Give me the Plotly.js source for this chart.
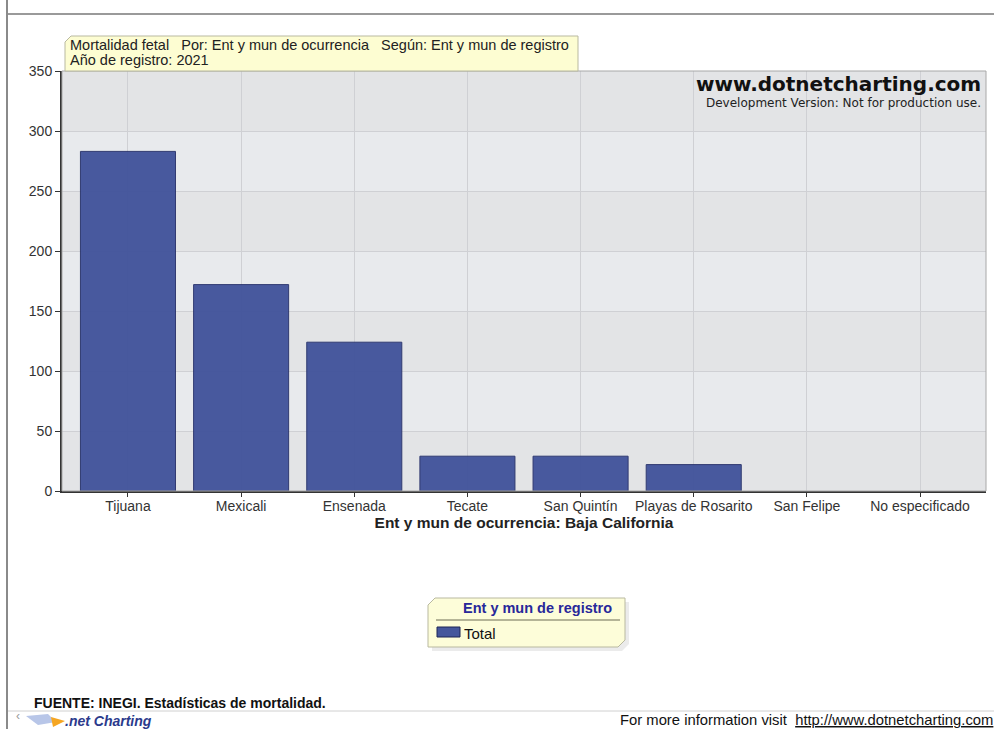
<!DOCTYPE html>
<html>
<head>
<meta charset="utf-8">
<script src="https://cdn.plot.ly/plotly-3.0.1.min.js"></script>
<style>
  html, body { margin: 0; padding: 0; background: #ffffff; }
  #chart { width: 994px; height: 729px; }
</style>
</head>
<body>
<div id="chart"></div>
<script>
// ---- data ----
var categories = ["Tijuana", "Mexicali", "Ensenada", "Tecate", "San Quintín", "Playas de Rosarito", "San Felipe", "No especificado"];
var totals = [283, 172, 124, 29, 29, 22, 0, 0];
var seriesName = "Total";
var yTickValues = [0, 50, 100, 150, 200, 250, 300, 350];
var titleLine1 = "Mortalidad fetal   Por: Ent y mun de ocurrencia   Según: Ent y mun de registro";
var titleLine2 = "Año de registro: 2021";
var xAxisTitle = "Ent y mun de ocurrencia: Baja California";
var legendTitle = "Ent y mun de registro";
var sourceText = "FUENTE: INEGI. Estadísticas de mortalidad.";

// ---- pixel helpers (layout geometry) ----
var W = 994, H = 729;
var L = 62, R = 986, T = 71, B = 491;
function px(x) { return (x - L) / (R - L); }
function py(y) { return (B - y) / (B - T); }
function path(pts) {
  return "M" + pts.map(function (p) { return px(p[0]) + "," + py(p[1]); }).join(" L") + " Z";
}

var shapes = [];
// alternating bands in plot
for (var i = 0; i < yTickValues.length - 1; i++) {
  shapes.push({
    type: "rect", xref: "paper", yref: "y", layer: "below",
    x0: 0, x1: 1, y0: yTickValues[i], y1: yTickValues[i + 1],
    fillcolor: (i % 2 === 0) ? "#e3e4e6" : "#e8eaed", line: { width: 0 }
  });
}
// plot border (grey top/right)
shapes.push({ type: "rect", xref: "paper", yref: "paper", x0: 0, x1: 1, y0: 0, y1: 1,
  line: { color: "#a8a8a8", width: 1 }, layer: "above" });
// page frame lines
shapes.push({ type: "line", xref: "paper", yref: "paper", x0: px(7), x1: px(7), y0: py(0), y1: py(729),
  line: { color: "#8a8a8a", width: 2 } });
shapes.push({ type: "line", xref: "paper", yref: "paper", x0: px(8), x1: px(994), y0: py(14), y1: py(14),
  line: { color: "#9a9a9a", width: 2 } });
shapes.push({ type: "line", xref: "paper", yref: "paper", x0: px(8), x1: px(994), y0: py(711), y1: py(711),
  line: { color: "#d0d0d0", width: 1 } });
// title box
shapes.push({ type: "path", xref: "paper", yref: "paper", layer: "above",
  path: path([[71, 36], [578, 36], [578, 71], [65, 71], [65, 42]]),
  fillcolor: "#fdfdd2", line: { color: "#b9b9a0", width: 1 } });
// legend box shadow + box
shapes.push({ type: "path", xref: "paper", yref: "paper",
  path: path([[438, 602], [629, 602], [629, 644], [622, 651], [432, 651], [432, 609]]),
  fillcolor: "rgba(0,0,0,0.08)", line: { width: 0 } });
shapes.push({ type: "path", xref: "paper", yref: "paper",
  path: path([[435, 598], [625, 598], [625, 640], [618, 647], [428, 647], [428, 605]]),
  fillcolor: "#fdfdd9", line: { color: "#b9b9a0", width: 1 } });
shapes.push({ type: "line", xref: "paper", yref: "paper", x0: px(436), x1: px(620), y0: py(620), y1: py(620),
  line: { color: "#6c6c55", width: 1 } });
// legend swatch
shapes.push({ type: "rect", xref: "paper", yref: "paper", x0: px(437), x1: px(460), y0: py(627), y1: py(637),
  fillcolor: "#45579c", line: { color: "#1e2757", width: 1 } });
// logo icon
shapes.push({ type: "path", xref: "paper", yref: "paper",
  path: path([[26, 716], [48, 714], [56, 722], [38, 725]]),
  fillcolor: "#b8c6e8", line: { width: 0 } });
shapes.push({ type: "path", xref: "paper", yref: "paper",
  path: path([[51, 717], [65, 721], [53, 727]]),
  fillcolor: "#f5a623", line: { width: 0 } });

var annotations = [
  { xref: "paper", yref: "paper", x: px(68), y: py(45), xanchor: "left", yanchor: "middle",
    text: titleLine1, showarrow: false, font: { family: "Liberation Sans, Arial", size: 14.5, color: "#222" } },
  { xref: "paper", yref: "paper", x: px(68), y: py(60), xanchor: "left", yanchor: "middle",
    text: titleLine2, showarrow: false, font: { family: "Liberation Sans, Arial", size: 14.5, color: "#222" } },
  { xref: "paper", yref: "paper", x: px(983), y: py(84), xanchor: "right", yanchor: "middle",
    text: "<b>www.dotnetcharting.com</b>", showarrow: false,
    font: { family: "DejaVu Sans, Verdana", size: 20, color: "#111" } },
  { xref: "paper", yref: "paper", x: px(983), y: py(103), xanchor: "right", yanchor: "middle",
    text: "Development Version: Not for production use.", showarrow: false,
    font: { family: "DejaVu Sans, Verdana", size: 12, color: "#222" } },
  { xref: "paper", yref: "paper", x: px(614), y: py(608), xanchor: "right", yanchor: "middle",
    text: "<b>" + legendTitle + "</b>", showarrow: false,
    font: { family: "Liberation Sans, Arial", size: 14.5, color: "#28289a" } },
  { xref: "paper", yref: "paper", x: px(462), y: py(633), xanchor: "left", yanchor: "middle",
    text: seriesName, showarrow: false,
    font: { family: "Liberation Sans, Arial", size: 15, color: "#111" } },
  { xref: "paper", yref: "paper", x: px(32), y: py(703), xanchor: "left", yanchor: "middle",
    text: "<b>" + sourceText + "</b>", showarrow: false,
    font: { family: "Liberation Sans Narrow, Arial Narrow, Liberation Sans", size: 14, color: "#111" } },
  { xref: "paper", yref: "paper", x: px(14), y: py(716), xanchor: "left", yanchor: "middle",
    text: "‹", showarrow: false,
    font: { family: "Liberation Sans, Arial", size: 12, color: "#999" } },
  { xref: "paper", yref: "paper", x: px(63), y: py(721), xanchor: "left", yanchor: "middle",
    text: "<b><i>.net Charting</i></b>", showarrow: false,
    font: { family: "Liberation Sans Narrow, Liberation Sans, Arial", size: 14, color: "#2b3a8c" } },
  { xref: "paper", yref: "paper", x: px(995), y: py(720), xanchor: "right", yanchor: "middle",
    text: "For more information visit  <u>http://www.dotnetcharting.com</u>", showarrow: false,
    font: { family: "Liberation Sans Narrow, Liberation Sans, Arial", size: 14.8, color: "#111" } }
];

var trace = {
  type: "bar", name: seriesName, x: categories, y: totals, width: 0.84,
  marker: { color: "#3f519a", opacity: 0.94,
    line: { color: "#26306a", width: totals.map(function (v) { return v > 0 ? 1 : 0; }) } },
  showlegend: false, hoverinfo: "x+y"
};

var layout = {
  width: W, height: H,
  margin: { l: L, r: W - R, t: T, b: H - B, pad: 0 },
  paper_bgcolor: "#ffffff", plot_bgcolor: "rgba(0,0,0,0)",
  showlegend: false,
  font: { family: "Liberation Sans, Arial", size: 13, color: "#333" },
  xaxis: {
    type: "category", range: [-0.583, 7.583], fixedrange: true,
    showgrid: true, gridcolor: "#cfd0d4", gridwidth: 1,
    showline: true, linecolor: "#333", linewidth: 2,
    ticks: "outside", ticklen: 4, tickcolor: "#333", tickwidth: 1,
    ticklabelstandoff: -3,
    tickfont: { family: "Liberation Sans, Arial", size: 14, color: "#333" },
    title: { text: "<b>" + xAxisTitle + "</b>", standoff: 0,
      font: { family: "Liberation Sans, Arial", size: 15.5, color: "#222" } },
    automargin: false, zeroline: false
  },
  yaxis: {
    range: [0, 350], tickvals: yTickValues, fixedrange: true,
    showgrid: true, gridcolor: "#cfd0d4", gridwidth: 1,
    showline: true, linecolor: "#333", linewidth: 2,
    ticks: "outside", ticklen: 5, tickcolor: "#333", tickwidth: 1,
    tickfont: { family: "Liberation Sans, Arial", size: 14, color: "#333" },
    automargin: false, zeroline: false
  },
  shapes: shapes,
  annotations: annotations
};

Plotly.newPlot("chart", [trace], layout, { displayModeBar: false, staticPlot: true });
</script>
</body>
</html>
